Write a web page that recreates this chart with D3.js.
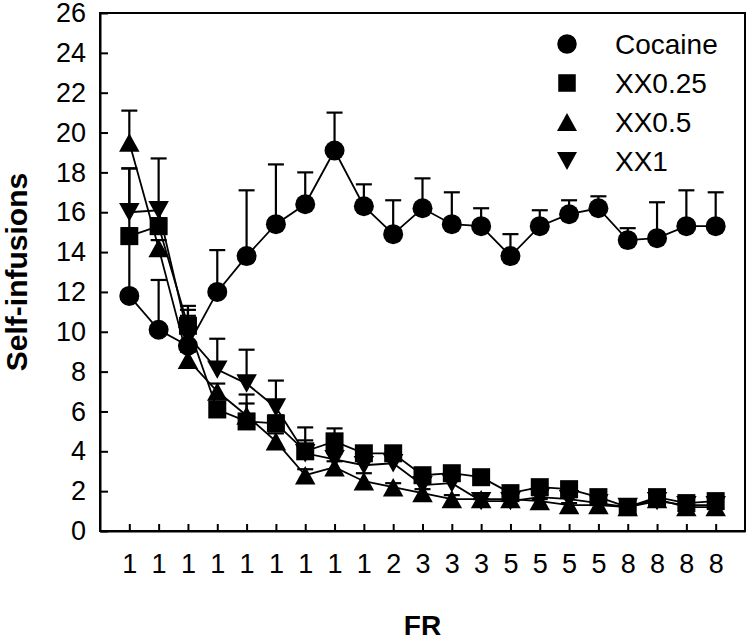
<!DOCTYPE html>
<meta charset="utf-8">
<style>

body {
    margin: 0;
    background: #fff;
}

text {
    font-family: "Liberation Sans", Arial, sans-serif;
    fill: #000;
}

.axis path,
.axis line {
    stroke: #000;
    stroke-width: 2;
}

.axis text {
    font-size: 27px;
}

.series-line {
    fill: none;
    stroke: #000;
    stroke-width: 1.8;
}

.err {
    stroke: #000;
    stroke-width: 2.2;
}

</style>
<body>
<script src="https://d3js.org/d3.v7.min.js"></script>
<script>

var width = 747,
    height = 641;

var margin = {top: 13, right: 2, bottom: 110, left: 100};

// FR schedule for each session
var frLabels = ["1", "1", "1", "1", "1", "1", "1", "1", "1", "2", "3",
                "3", "3", "5", "5", "5", "5", "8", "8", "8", "8"];

var yTicks = [0, 2, 4, 6, 8, 10, 12, 14, 16, 18, 20, 22, 24, 26];

// mean self-infusions and upper error (SEM) per session
var cocaine    = [11.8, 10.1, 9.3, 12.0, 13.8, 15.4, 16.4, 19.1, 16.3, 14.9, 16.2,
                  15.4, 15.3, 13.8, 15.3, 15.9, 16.2, 14.6, 14.7, 15.3, 15.3];
var cocaineSem = [6.4, 2.5, 1.5, 2.1, 3.3, 3.0, 1.6, 1.9, 1.1, 1.7, 1.5,
                  1.6, 0.9, 1.1, 0.8, 0.7, 0.6, 0.6, 1.8, 1.8, 1.7];

var xx025    = [14.8, 15.3, 10.3, 6.1, 5.5, 5.4, 4.0, 4.5, 3.9, 3.9, 2.8,
                2.9, 2.7, 1.9, 2.2, 2.1, 1.7, 1.2, 1.7, 1.4, 1.5];
var xx025Sem = [0.4, 0.4, 1.0, 0.3, 0.9, 0.4, 1.2, 0.65, 0.2, 0.2, 0.2,
                0.2, 0.2, 0.1, 0.2, 0.2, 0.2, 0.1, 0.2, 0.1, 0.1];

var xx05    = [19.5, 14.2, 8.6, 7.0, 5.8, 4.5, 2.8, 3.2, 2.5, 2.2, 1.9,
               1.6, 1.6, 1.6, 1.5, 1.3, 1.3, 1.2, 1.6, 1.2, 1.2];
var xx05Sem = [1.6, 0.4, 0.4, 0.4, 1.05, 0.4, 0.3, 0.3, 0.4, 0.2, 0.2,
               0.2, 0.2, 0.1, 0.1, 0.1, 0.1, 0.1, 0.1, 0.1, 0.1];

var xx1    = [16.0, 16.1, 9.8, 8.1, 7.4, 6.2, 3.9, 3.6, 3.3, 3.4, 2.3,
              2.4, 1.5, 1.5, 1.7, 1.6, 1.4, 1.2, 1.5, 1.3, 1.3];
var xx1Sem = [2.2, 2.6, 1.3, 1.55, 1.7, 1.35, 0.65, 0.3, 0.3, 0.2, 0.2,
              0.2, 0.1, 0.1, 0.1, 0.1, 0.1, 0.1, 0.1, 0.1, 0.1];

// triangle shapes centred on their bounding box
var triUp = {
    draw: function(ctx, size) {
        var s = Math.sqrt(size);
        ctx.moveTo(0, -0.45 * s);
        ctx.lineTo(0.5 * s, 0.45 * s);
        ctx.lineTo(-0.5 * s, 0.45 * s);
        ctx.closePath();
    }
};
var triDown = {
    draw: function(ctx, size) {
        var s = Math.sqrt(size);
        ctx.moveTo(0, 0.45 * s);
        ctx.lineTo(0.5 * s, -0.45 * s);
        ctx.lineTo(-0.5 * s, -0.45 * s);
        ctx.closePath();
    }
};

var series = [
    {name: "Cocaine", values: cocaine, sem: cocaineSem, type: d3.symbolCircle, size: 314},
    {name: "XX0.25", values: xx025, sem: xx025Sem, type: d3.symbolSquare, size: 324},
    {name: "XX0.5", values: xx05, sem: xx05Sem, type: triUp, size: 420},
    {name: "XX1", values: xx1, sem: xx1Sem, type: triDown, size: 420}
];

var svg = d3.select("body").append("svg")
    .attr("width", width)
    .attr("height", height);

var x = d3.scalePoint()
    .domain(d3.range(frLabels.length))
    .range([margin.left, width - margin.right])
    .padding(1);

var y = d3.scaleLinear()
    .domain([0, 26])
    .range([height - margin.bottom, margin.top]);

// frame
svg.append("rect")
    .attr("x", margin.left)
    .attr("y", margin.top)
    .attr("width", width - margin.right - margin.left)
    .attr("height", height - margin.bottom - margin.top)
    .attr("fill", "none")
    .attr("stroke", "#000")
    .attr("stroke-width", 2);

svg.append("g")
    .attr("class", "axis")
    .attr("transform", "translate(0," + (height - margin.bottom) + ")")
    .call(d3.axisBottom(x)
        .tickSizeInner(-7)
        .tickSizeOuter(0)
        .tickPadding(23)
        .tickFormat(function(i) { return frLabels[i]; }));

svg.append("g")
    .attr("class", "axis")
    .attr("transform", "translate(" + margin.left + ",0)")
    .call(d3.axisLeft(y)
        .tickValues(yTicks)
        .tickSizeInner(-8)
        .tickSizeOuter(0)
        .tickPadding(14));

// axis titles
svg.append("text")
    .attr("transform", "translate(27," + ((margin.top + height - margin.bottom) / 2) + ") rotate(-90)")
    .attr("text-anchor", "middle")
    .style("font-size", "30px")
    .style("font-weight", "bold")
    .text("Self-infusions");

svg.append("text")
    .attr("x", (margin.left + width - margin.right) / 2)
    .attr("y", 635)
    .attr("text-anchor", "middle")
    .style("font-size", "28px")
    .style("font-weight", "bold")
    .text("FR");

var line = d3.line()
    .x(function(d, i) { return x(i); })
    .y(function(d) { return y(d); });

// lines first, then error bars, then markers
var drawOrder = series.slice().reverse();

svg.append("g")
    .selectAll("path")
    .data(drawOrder)
    .enter()
    .append("path")
    .attr("class", "series-line")
    .attr("d", function(s) { return line(s.values); });

drawOrder.forEach(function(s) {
    var g = svg.append("g");
    var pts = s.values.map(function(v, i) { return {i: i, v: v, e: s.sem[i]}; });

    g.selectAll(".stem")
        .data(pts)
        .enter()
        .append("line")
        .attr("class", "err")
        .attr("x1", function(d) { return x(d.i); })
        .attr("x2", function(d) { return x(d.i); })
        .attr("y1", function(d) { return y(d.v); })
        .attr("y2", function(d) { return y(d.v + d.e); });

    g.selectAll(".cap")
        .data(pts)
        .enter()
        .append("line")
        .attr("class", "err")
        .attr("stroke-width", 2.6)
        .attr("x1", function(d) { return x(d.i) - 8; })
        .attr("x2", function(d) { return x(d.i) + 8; })
        .attr("y1", function(d) { return y(d.v + d.e); })
        .attr("y2", function(d) { return y(d.v + d.e); });
});

drawOrder.forEach(function(s) {
    svg.append("g")
        .selectAll("path")
        .data(s.values)
        .enter()
        .append("path")
        .attr("transform", function(d, i) { return "translate(" + x(i) + "," + y(d) + ")"; })
        .attr("d", d3.symbol().type(s.type).size(s.size))
        .attr("fill", "#000");
});

// legend
var legend = svg.append("g")
    .selectAll("g")
    .data(series)
    .enter()
    .append("g")
    .attr("transform", function(d, i) { return "translate(567," + (44 + i * 39) + ")"; });

legend.append("path")
    .attr("d", function(s) { return d3.symbol().type(s.type).size(s.size * 0.95)(); })
    .attr("fill", "#000");

legend.append("text")
    .attr("x", 48)
    .attr("dy", "0.35em")
    .style("font-size", "28px")
    .text(function(s) { return s.name; });

</script>
